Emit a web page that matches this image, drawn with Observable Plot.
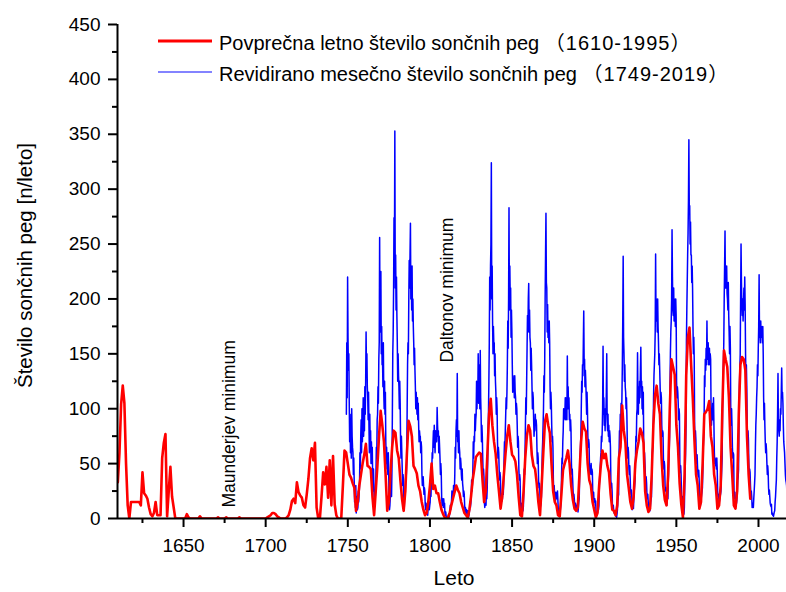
<!DOCTYPE html>
<html><head><meta charset="utf-8">
<script src="https://cdn.jsdelivr.net/npm/d3@7"></script>
<script src="https://cdn.jsdelivr.net/npm/@observablehq/plot@0.6"></script>
<style>body{margin:0;background:#fff;} #chart{width:786px;height:592px;}</style>
</head><body><div id="chart"></div>
<script>
// ---- data ----
const redStart = 1610; // yearly mean group sunspot number, 1610-1995
const redValues = [
 33, 60, 104, 121, 105, 50, 12, 0, 15, 15,
 15, 15, 15, 15, 12, 42, 23, 21, 18, 10,
 4, 2, 5, 15, 3, 3, 3, 55, 69, 77,
 2, 25, 47, 20, 10, 0, 0, 0, 0, 0,
 0, 0, 4, 1, 0, 0, 0, 0, 0, 0,
 2, 0, 0, 0, 0, 0, 0, 0, 0, 0,
 0, 1, 0, 0, 0, 0, 1, 0, 0, 0,
 0, 0, 0, 0, 1, 0, 0, 0, 0, 0,
 0, 0, 0, 0, 0, 0, 0, 0, 0, 0,
 0, 1, 2, 3, 5, 5, 4, 2, 1, 0,
 0, 0, 0, 1, 3, 8, 16, 18, 14, 33,
 24, 21, 19, 12, 10, 22, 36, 55, 64, 53,
 69, 10, 0, 0, 20, 42, 31, 47, 19, 53,
 12, 57, 13, 3, 0, 0, 0, 30, 62, 60,
 50, 40, 37, 32, 28, 7, 15, 30, 40, 50,
 58, 68, 48, 47, 45, 20, 3, 25, 48, 75,
 98, 85, 70, 40, 7, 15, 42, 65, 80, 78,
 62, 55, 35, 18, 7, 25, 60, 89, 84, 75,
 48, 45, 41, 30, 25, 15, 8, 3, 5, 15,
 30, 50, 27, 30, 23, 23, 15, 8, 4, 1,
 0, 1, 5, 12, 18, 24, 30, 26, 23, 15,
 10, 5, 3, 1, 8, 20, 35, 45, 56, 58,
 60, 59, 35, 15, 25, 60, 95, 109, 85, 70,
 59, 40, 25, 9, 20, 40, 59, 75, 85, 70,
 58, 56, 52, 40, 20, 3, 2, 25, 55, 75,
 85, 80, 58, 48, 45, 32, 15, 3, 30, 60,
 88, 95, 85, 78, 50, 25, 15, 12, 3, 2,
 22, 44, 50, 55, 62, 50, 30, 17, 9, 7,
 10, 40, 70, 88, 82, 79, 50, 35, 30, 15,
 8, 1, 5, 30, 48, 62, 55, 59, 48, 42,
 22, 8, 7, 3, 12, 55, 65, 103, 80, 69,
 40, 28, 15, 9, 20, 50, 62, 70, 82, 78,
 69, 25, 12, 6, 9, 40, 85, 112, 121, 105,
 95, 55, 30, 17, 12, 40, 100, 145, 138, 131,
 85, 65, 32, 13, 1, 40, 130, 165, 174, 140,
 110, 72, 40, 30, 9, 15, 50, 95, 97, 100,
 107, 75, 65, 40, 30, 9, 12, 30, 100, 153,
 145, 138, 110, 65, 40, 12, 9, 25, 95, 140,
 147, 145, 135, 75, 40, 18
];

const blueStart = 1749; // revised monthly sunspot number, sampled 4x per year, 1749-2019
const blueSamplesPerYear = 4;
const blueValues = [
 95,160,110,220, 165,135,150,105, 70,95,60,85, 55,100,75,65, 60,40,55,35, 15,25,10,30, 5,12,20,8, 10,25,15,22, 30,60,45,75, 90,60,100,70,
 85,110,75,95, 80,120,95,125, 170,130,150,120, 110,90,115,85, 60,95,70,80, 50,70,55,65, 40,25,45,30, 10,20,15,28, 40,65,55,90, 95,120,105,145,
 160,256,170,190, 225,150,175,140, 145,120,160,115, 100,125,95,115, 70,50,65,45, 55,40,60,45, 15,8,12,20, 25,40,20,45, 95,150,170,210, 274,230,353,210,
 240,190,220,185, 160,125,150,130, 120,100,125,105, 70,55,75,60, 45,30,40,35, 15,10,25,18, 30,45,40,55, 100,140,160,150, 200,235,210,240, 269,200,220,190,
 230,180,200,175, 160,140,155,135, 120,100,115,105, 95,110,90,105, 85,70,80,75, 75,60,70,65, 40,30,35,38, 30,22,28,25, 12,8,14,10, 5,8,3,10,
 10,15,8,12, 15,30,20,35, 45,60,55,70, 80,65,85,70, 60,80,70,75, 70,101,85,75, 80,60,75,65, 55,40,50,42, 20,12,18,15, 10,18,12,14,
 5,3,6,2, 0,0,1,0, 2,4,1,3, 5,12,8,10, 15,25,20,22, 18,30,22,25, 40,65,55,80, 90,75,132,70, 75,60,80,65, 60,45,55,50,
 40,35,45,32, 28,20,25,22, 12,6,10,8, 5,8,4,7, 1,3,2,4, 8,15,10,14, 20,35,25,32, 45,70,55,75, 70,95,80,90, 95,125,100,120,
 110,150,105,125, 140,100,153,110, 95,70,85,75, 55,40,45,38, 15,10,14,12, 12,25,18,28, 50,80,95,125, 160,220,190,230, 250,324,200,230, 180,150,175,160,
 160,130,150,125, 115,95,110,100, 70,55,65,60, 45,35,42,38, 20,15,22,16, 18,30,22,32, 55,70,65,80, 95,110,100,115, 140,180,155,200, 283,190,230,200,
 210,165,190,170, 140,115,130,120, 125,110,130,115, 110,95,105,100, 85,65,75,70, 45,35,40,36, 15,10,14,12, 5,10,7,11, 25,45,40,60, 85,110,95,125,
 155,185,170,200, 214,170,190,165, 160,135,155,140, 120,100,115,110, 90,75,85,80, 95,85,90,85, 65,50,60,55, 35,28,32,26, 10,12,15,20, 40,60,70,85,
 100,130,115,145, 200,240,278,215, 210,170,195,165, 175,160,180,160, 120,100,115,105, 85,70,75,65, 35,25,30,22, 20,15,24,18, 22,18,25,17, 8,4,6,3,
 5,8,12,15, 40,55,50,70, 80,100,90,95, 95,110,90,100, 110,90,148,100, 120,100,110,90, 95,80,90,80, 50,40,45,35, 25,20,22,18, 12,10,14,9,
 8,12,10,11, 6,10,15,18, 40,55,65,75, 100,125,115,140, 130,160,189,140, 145,120,135,125, 110,95,115,100, 75,65,72,68, 45,40,48,42, 50,40,45,42,
 22,18,24,16, 15,18,12,16, 4,6,3,5, 6,10,8,12, 30,40,45,55, 60,75,70,80, 100,157,95,110, 85,100,80,95, 95,115,150,90, 80,95,75,85,
 70,80,75,65, 35,28,32,25, 10,8,12,7, 5,7,4,6, 2,3,1,4, 8,15,20,22, 60,80,75,95, 85,105,95,110, 140,180,239,165, 150,125,140,120,
 115,100,110,95, 70,55,65,60, 45,40,48,38, 25,22,26,20, 8,10,12,9, 18,25,30,35, 55,75,70,95, 100,151,110,95, 120,105,125,110, 135,156,120,125,
 100,120,95,115, 70,55,60,50, 40,30,38,32, 20,18,22,15, 10,8,12,7, 10,15,18,20, 45,60,65,75, 110,130,140,150, 170,241,180,200, 190,170,200,175,
 160,140,150,135, 120,105,115,110, 85,75,80,78, 55,45,52,48, 30,25,28,24, 12,15,20,18, 35,50,60,75, 120,150,170,180, 200,263,220,190, 185,210,180,200,
 195,175,200,185, 125,110,120,115, 105,90,100,95, 50,42,48,40, 22,18,20,17, 5,8,4,10, 30,45,60,85, 160,190,215,240, 260,290,345,280, 285,250,270,240,
 240,215,230,210, 175,150,165,145, 85,70,80,72, 55,50,58,48, 40,38,44,36, 18,14,12,16, 18,22,25,28, 45,65,75,85, 130,120,145,135, 155,140,180,145,
 150,160,140,145, 155,140,150,145, 100,85,95,90, 105,90,110,85, 60,50,55,48, 50,45,55,45, 25,20,22,18, 15,18,20,22, 25,35,45,55, 100,125,140,160,
 200,230,262,210, 225,210,230,205, 200,190,215,185, 170,150,175,155, 95,85,100,85, 65,55,60,58, 22,18,24,18, 12,15,14,18, 25,35,38,45, 90,120,135,150,
 200,250,215,195, 185,200,180,195, 210,190,220,195, 150,125,140,120, 85,70,80,72, 50,40,45,42, 30,22,25,20, 10,12,14,10, 18,25,32,40, 65,85,95,110,
 120,140,130,155, 175,222,165,170, 160,180,165,175, 170,160,175,150, 110,90,105,85, 70,60,68,62, 50,40,48,42, 28,22,26,20, 14,12,11,13, 4,5,3,4,
 2,4,6,7, 15,20,28,35, 55,70,95,132, 85,80,75,90, 80,100,95,115, 137,110,115,105, 85,70,65,60, 50,40,35,33, 30,20,15,12, 7,10,5,4,
 8,2,1,3
];

const xMajorTicks = [1650, 1700, 1750, 1800, 1850, 1900, 1950, 2000];
const xMinorTicks = [1625, 1675, 1725, 1775, 1825, 1875, 1925, 1975];
const yMajorTicks = [0, 50, 100, 150, 200, 250, 300, 350, 400, 450];
const yMinorTicks = [25, 75, 125, 175, 225, 275, 325, 375, 425];
const xDomain = [1609.8, 2017.05];
const yDomain = [0, 450];

const legendNames = ["Povprečna letno število sončnih peg", "Revidirano mesečno število sončnih peg"];
const legendRanges = ["（1610-1995）", "（1749-2019）"];
const seriesColors = ["#ff0000", "#0000ff"];
const annotationLabels = ["Maunderjev minimum", "Daltonov minimum"];
const annotationYears = [1678, 1810.7];
const annotationValues = [10, 142];
const xTitle = "Leto";
const yTitle = "Število sončnih peg [n/leto]";

// ---- build tables ----
const red = redValues.map((v, i) => ({year: redStart + i, value: v}));
const blue = blueValues.map((v, i) => ({
  year: blueStart + Math.floor(i / blueSamplesPerYear) + (i % blueSamplesPerYear + 0.5) / blueSamplesPerYear,
  value: v
}));
const annotations = annotationLabels.map((t, i) => ({text: t, year: annotationYears[i], value: annotationValues[i]}));

const font = "'Liberation Sans', Arial, 'Noto Sans CJK SC', sans-serif";

const chart = Plot.plot({
  width: 786,
  height: 592,
  marginLeft: 117,
  marginRight: 0,
  marginTop: 24,
  marginBottom: 74,
  style: {fontFamily: font, fontSize: "19px", color: "#000", background: "#fff"},
  x: {domain: xDomain},
  y: {domain: yDomain},
  marks: [
    Plot.line(blue, {x: "year", y: "value", stroke: seriesColors[1], strokeWidth: 1.5, clip: true}),
    Plot.line(red, {x: "year", y: "value", stroke: seriesColors[0], strokeWidth: 2.6, clip: true}),
    Plot.ruleX([xDomain[0]], {strokeWidth: 2}),
    Plot.ruleY([yDomain[0]], {strokeWidth: 2}),
    Plot.axisX({ticks: xMajorTicks, tickSize: 9, tickPadding: 11, tickFormat: d => String(d), fontSize: 19, strokeWidth: 2, label: null}),
    Plot.axisX({ticks: xMinorTicks, tickSize: 5, tickFormat: () => "", strokeWidth: 2, label: null}),
    Plot.axisY({ticks: yMajorTicks, tickSize: 9, tickPadding: 8, tickFormat: d => String(d), fontSize: 19, strokeWidth: 2, label: null}),
    Plot.axisY({ticks: yMinorTicks, tickSize: 5, tickFormat: () => "", strokeWidth: 2, label: null}),
    Plot.text(annotations, {x: "year", y: "value", text: "text", rotate: -90, textAnchor: "start", lineAnchor: "middle", fontSize: 17.5, fill: "#000"}),
    Plot.text([yTitle], {frameAnchor: "left", rotate: -90, textAnchor: "middle", lineAnchor: "middle", dx: -92, dy: -6, fontSize: 20.5, fill: "#000"}),
    Plot.text([xTitle], {frameAnchor: "bottom", textAnchor: "middle", lineAnchor: "middle", dx: 2, dy: 60, fontSize: 21, fill: "#000"})
  ]
});

document.getElementById("chart").appendChild(chart);

// legend inside the plot, top-left
const svg = d3.select(chart);
const lg = svg.append("g")
  .attr("font-family", font).attr("font-size", 20).attr("fill", "#000")
  .attr("text-anchor", "start");
const legendWidths = [2.8, 1.3];
legendNames.forEach((name, i) => {
  const cy = 41 + i * 31;
  lg.append("line").attr("x1", 158).attr("x2", 212).attr("y1", cy).attr("y2", cy)
    .attr("stroke", i === 1 ? "#5a5aff" : seriesColors[i]).attr("stroke-width", legendWidths[i]);
  const t = lg.append("text").attr("x", 219).attr("y", cy + 9).attr("text-anchor", "start");
  t.append("tspan").text(name + " ");
  t.append("tspan").attr("letter-spacing", "1px").text(legendRanges[i]);
});
</script>
</body></html>
